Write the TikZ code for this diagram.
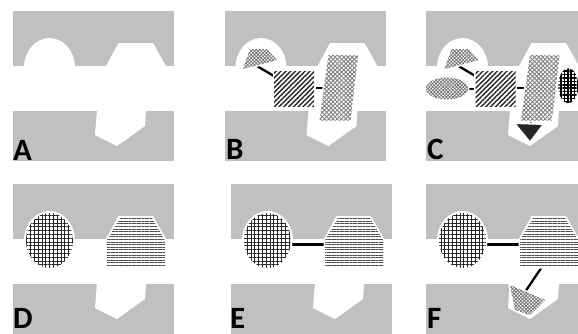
\documentclass[tikz,border=0pt]{standalone}
\usepackage{fontspec}
\setmainfont{Carlito}
\usetikzlibrary{patterns.meta}
\definecolor{bgg}{RGB}{192,192,192}
\newcommand\panelbg{%
  \fill[bgg] (13,11) rectangle (174,66);
  \fill[bgg] (13,111) rectangle (174,161);
  \fill[white] (49.5,67.5) ellipse [x radius=25.5, y radius=29.5];
  \fill[white] (105.5,67) -- (118.5,43) -- (153,43) -- (166.5,67) -- cycle;
  \fill[white] (97,110) -- (95,135) -- (117,146) -- (145,126) -- (146,110) -- cycle;
}
\newcommand\contentB{%
  \coordinate (t1) at (45.5,66); \coordinate (r1) at (64,77);
  \coordinate (r2) at (102,88); \coordinate (p1) at (112,88);
  \draw[conn] (t1) -- (r1);
  \draw[conn] (r2) -- (p1);
  \path[finechk] (38.5,49) -- (55.5,49) -- (65.5,60) -- (31.5,69) -- cycle;
  \path[diaglines] (62.5,71) rectangle (102.5,106);
  \path[coarsechk] (117,55) -- (146.5,55.5) -- (139,120.5) -- (108,120.5) -- cycle;
}
\begin{document}
\begin{tikzpicture}[x=1pt,y=-1pt,
  conn/.style={line width=2.3pt,black},
  finechk/.style={fill=white,draw=white,line width=3pt,line join=round,
     postaction={pattern={Hatch[angle=45,distance=2.4pt,line width=0.75pt]},pattern color=black!55}},
  coarsechk/.style={fill=white,draw=white,line width=3pt,line join=round,
     postaction={pattern={Hatch[angle=45,distance=3pt,line width=0.9pt]},pattern color=black!50}},
  diaglines/.style={fill=white,draw=white,line width=3pt,
     postaction={pattern={Lines[angle=45,distance=3.4pt,line width=1.4pt]},pattern color=black!85}},
  gridpat/.style={fill=white,draw=white,line width=3pt,
     postaction={pattern={Hatch[angle=0,distance=3.8pt,line width=0.55pt]},pattern color=black!85}},
  hlines/.style={fill=white,draw=white,line width=3pt,line join=round,
     postaction={pattern={Lines[angle=0,distance=2.6pt,line width=1pt]},pattern color=black!70}},
  blackgrid/.style={fill=white,draw=white,line width=6pt,
     postaction={pattern={Hatch[angle=0,distance=3.4pt,line width=1.6pt]},pattern color=black}},
  lbl/.style={font=\fontsize{31}{31}\selectfont\bfseries,anchor=base west,inner sep=0pt,text depth=0pt}]
\useasboundingbox (0,0) rectangle (578,333);
\clip (0,0) rectangle (578,333);
% ---------- row 1 ----------
\begin{scope}[shift={(0,0)}]
  \panelbg
  \node[lbl] (la) at (13,160) {A};
\end{scope}
\begin{scope}[shift={(211.5,0)}]
  \panelbg
  \contentB
  \node[lbl] (lb) at (14.5,159) {B};
\end{scope}
\begin{scope}[shift={(413,0)}]
  \panelbg
  \coordinate (e1) at (54,89); \coordinate (r0) at (63,89);
  \coordinate (p2) at (140,88); \coordinate (o1) at (149,88);
  \coordinate (p3) at (118,119); \coordinate (tr) at (118,126);
  \draw[conn] (e1) -- (r0);
  \draw[conn] (p2) -- (o1);
  \draw[conn] (p3) -- (tr);
  \path[blackgrid] (155.3,85.8) ellipse [x radius=10, y radius=17.5];
  \contentB
  \path[finechk] (34,88.5) ellipse [x radius=21, y radius=11];
  \path[fill=black!85,draw=white,line width=2pt,line join=round] (101,123) -- (131,124) -- (117,142.5) -- cycle;
  \node[lbl] (lc) at (14,159) {C};
\end{scope}
% ---------- row 2 ----------
\begin{scope}[shift={(0,173)}]
  \panelbg
  \path[gridpat] (49.5,67.5) ellipse [x radius=23.5, y radius=27.5];
  \path[hlines] (107,94) -- (107,67) -- (120,45) -- (152,45) -- (165,67) -- (165,94) -- cycle;
  \node[lbl] (ld) at (13,155) {D};
\end{scope}
\begin{scope}[shift={(218,173)}]
  \panelbg
  \coordinate (e2) at (70,71.5); \coordinate (h2) at (110,71.5);
  \draw[conn] (e2) -- (h2);
  \path[gridpat] (49.5,67.5) ellipse [x radius=23.5, y radius=27.5];
  \path[hlines] (107,94) -- (107,67) -- (120,45) -- (152,45) -- (165,67) -- (165,94) -- cycle;
  \node[lbl] (le) at (12,155) {E};
\end{scope}
\begin{scope}[shift={(413,173)}]
  \panelbg
  \coordinate (e3) at (70,71.5); \coordinate (h3) at (110,71.5);
  \coordinate (h4) at (129.5,93); \coordinate (q1) at (112,119);
  \draw[conn] (e3) -- (h3);
  \draw[conn] (h4) -- (q1);
  \path[gridpat] (49.5,67.5) ellipse [x radius=23.5, y radius=27.5];
  \path[hlines] (107,94) -- (107,67) -- (120,45) -- (152,45) -- (165,67) -- (165,94) -- cycle;
  \path[finechk] (97,112) -- (132,127) -- (117,142) -- (102,137) -- cycle;
  \node[lbl] (lf) at (14,155) {F};
\end{scope}
\end{tikzpicture}
\end{document}
